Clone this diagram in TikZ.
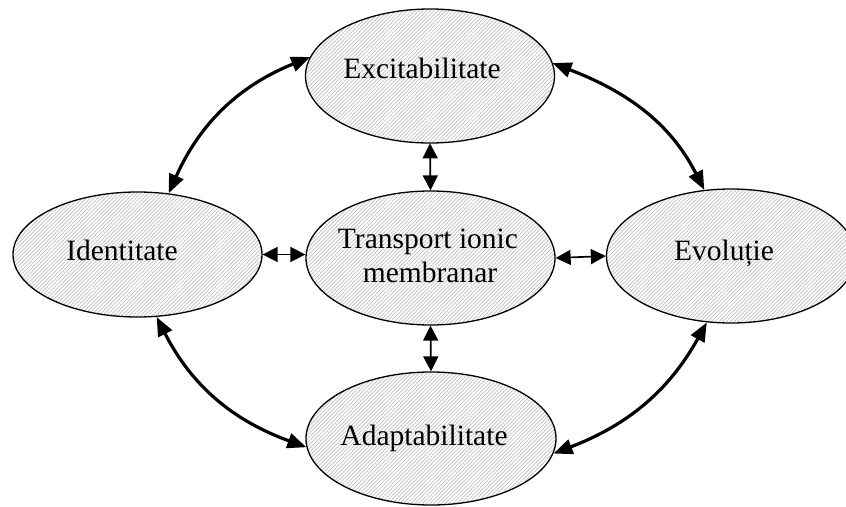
\documentclass[tikz,border=0pt]{standalone}
\usepackage{fontspec}
\setmainfont{Liberation Serif}
\usetikzlibrary{shapes.geometric,arrows.meta,patterns.meta}
\begin{document}
\begin{tikzpicture}[x=1pt,y=-1pt,
  oval/.style={ellipse, draw=black, line width=1.3pt, inner sep=0pt,
    minimum width=249pt, minimum height=134pt,
    pattern={Lines[angle=45,distance=2.7pt,line width=0.7pt]}, pattern color=black!25},
  lbl/.style={anchor=base, inner sep=0pt, font=\fontsize{29.5}{34}\selectfont},
  bigarrow/.style={line width=3.2pt, {Triangle[length=19pt,width=15pt]}-{Triangle[length=19pt,width=15pt]}},
  smallarrow/.style={line width=1.7pt, {Triangle[length=15pt,width=15pt]}-{Triangle[length=15pt,width=15pt]}}]
\useasboundingbox (0,0) rectangle (846,506);
\fill[white] (0,0) rectangle (846,506);

\node[oval] (exc) at (430,76) {};
\node[oval, minimum height=125pt] (ident) at (137.5,254.5) {};
\node[oval] (ctr) at (430.5,258) {};
\node[oval] (evol) at (731,256) {};
\node[oval, minimum height=133pt, minimum width=250pt] (adapt) at (431,438.5) {};

\node[lbl] (excT) at (422,78) {Excitabilitate};
\node[lbl] (identT) at (122,260) {Identitate};
\node[lbl] (ctrT1) at (428,248) {Transport ionic};
\node[lbl] (ctrT2) at (430,282) {membranar};
\node[lbl] (evolT) at (724,260) {Evoluție};
\node[lbl] (adaptT) at (424,445) {Adaptabilitate};

\draw[bigarrow] (ident.63) to[out=66,in=202] (exc.171);
\draw[bigarrow] (exc.6) to[out=-21,in=117] (evol.112);
\draw[bigarrow] (ident.287) to[out=-63,in=160] (adapt.184);
\draw[bigarrow] (evol.250) to[out=241,in=21] (adapt.353);

\draw[smallarrow] (exc.south) -- (ctr.north);
\draw[smallarrow] (ctr.south) -- (adapt.north);
\draw[smallarrow] (ident.east) -- (ctr.west |- ident.east);
\draw[smallarrow] (ctr.east) -- (evol.west);
\end{tikzpicture}
\end{document}
